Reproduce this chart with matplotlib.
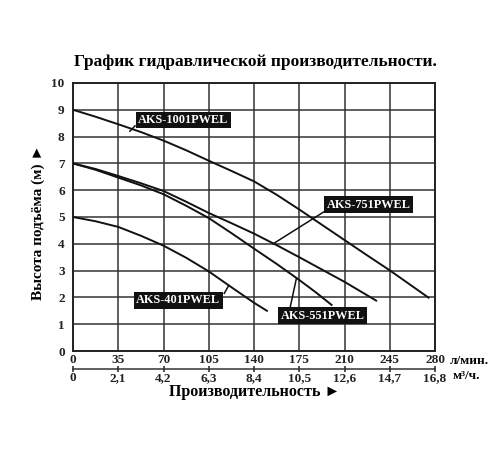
import matplotlib
matplotlib.use('Agg')
import matplotlib.pyplot as plt

plt.rcParams['font.family'] = ['Liberation Serif', 'DejaVu Serif']
plt.rcParams['font.weight'] = 'bold'

# расход, л/мин и напор, м
q_1001 = [0, 17.5, 35, 52.5, 70, 87.5, 105, 122.5, 140, 157.5, 175, 192.5, 210, 227.5, 245, 260, 275]
h_1001 = [9, 8.74, 8.46, 8.17, 7.85, 7.49, 7.1, 6.72, 6.33, 5.83, 5.28, 4.71, 4.14, 3.57, 3.01, 2.5, 1.99]
q_751 = [0, 17.5, 35, 52.5, 70, 87.5, 105, 122.5, 140, 157.5, 175, 192.5, 210, 234.5]
h_751 = [7, 6.79, 6.53, 6.26, 5.97, 5.57, 5.15, 4.77, 4.38, 3.95, 3.5, 3.04, 2.58, 1.88]
q_551 = [0, 17.5, 35, 52.5, 70, 87.5, 105, 122.5, 140, 157.5, 175, 187.5, 200]
h_551 = [7, 6.76, 6.47, 6.18, 5.85, 5.42, 4.96, 4.4, 3.82, 3.25, 2.65, 2.2, 1.72]
q_401 = [0, 17.5, 35, 52.5, 70, 87.5, 105, 122.5, 140, 150]
h_401 = [5, 4.84, 4.63, 4.3, 3.93, 3.48, 2.97, 2.38, 1.8, 1.5]

flow_ticks = [0, 35, 70, 105, 140, 175, 210, 245, 280]
m3_ticks = [0, 2.1, 4.2, 6.3, 8.4, 10.5, 12.6, 14.7, 16.8]
head_ticks = list(range(0, 11))

fig = plt.figure(figsize=(5, 4.5), dpi=100)
ax = fig.add_axes([0.146, 0.22, 0.724, 0.5956])

for q, h in [(q_1001, h_1001), (q_751, h_751), (q_551, h_551), (q_401, h_401)]:
    ax.plot(q, h, color='#111111', lw=1.4, zorder=3)

ax.set_xlim(0, 280)
ax.set_ylim(0, 10)
ax.set_xticks(flow_ticks)
ax.set_yticks(head_ticks)
ax.set_xticklabels([str(t) for t in flow_ticks], fontsize=9.5, fontweight='bold')
ax.set_yticklabels([str(t) for t in head_ticks], fontsize=9.5, fontweight='bold')
ax.tick_params(axis='both', length=0, colors='#222222')
ax.tick_params(axis='x', pad=2)
ax.tick_params(axis='y', pad=6)
ax.grid(True, color='#333333', lw=1.1)
for s in ax.spines.values():
    s.set_color('#222222')
    s.set_linewidth(1.4)

# вторая шкала в м³/ч
sec = ax.secondary_xaxis(-0.067, functions=(lambda x: x * 0.06, lambda x: x / 0.06))
sec.set_xticks(m3_ticks)
sec.set_xticklabels([str(t).replace('.', ',') if t else '0' for t in m3_ticks],
                    fontsize=9.5, fontweight='bold')
sec.tick_params(direction='inout', length=5, width=1.1, pad=0, colors='#222222')
sec.spines['bottom'].set_linewidth(1.1)
sec.spines['bottom'].set_color('#333333')

ax.text(1.04, -0.037, 'л/мин.', transform=ax.transAxes, fontsize=9.5,
        fontweight='bold', ha='left', va='center', clip_on=False)
ax.text(1.05, -0.095, 'м³/ч.', transform=ax.transAxes, fontsize=9.5,
        fontweight='bold', ha='left', va='center', clip_on=False)

box = dict(boxstyle='square,pad=0.2', fc='#111111', ec='none')
labels = [
    ('AKS-1001PWEL', (85.4, 8.62), (48, 8.4), (44, 8.2)),
    ('AKS-751PWEL', (228.7, 5.45), (194, 5.19), (154.8, 4.0)),
    ('AKS-551PWEL', (193, 1.31), (167.7, 1.57), (172.9, 2.73)),
    ('AKS-401PWEL', (81.5, 1.9), (117, 2.15), (120.5, 2.45)),
]
for name, c, p0, p1 in labels:
    ax.plot([p0[0], p1[0]], [p0[1], p1[1]], color='#111111', lw=1.1, zorder=4)
    ax.text(c[0], c[1], name, color='white', fontsize=8.8, fontweight='bold',
            ha='center', va='center', bbox=box, zorder=5)

fig.text(0.51, 0.862, 'График гидравлической производительности.',
         fontsize=12.5, fontweight='bold', ha='center', va='center')
fig.text(0.076, 0.507, 'Высота подъёма (м) ►', rotation=90,
         fontsize=11, fontweight='bold', ha='center', va='center')
fig.text(0.51, 0.129, 'Производительность ►',
         fontsize=11.5, fontweight='bold', ha='center', va='center')

fig.savefig('out.png', dpi=100)
